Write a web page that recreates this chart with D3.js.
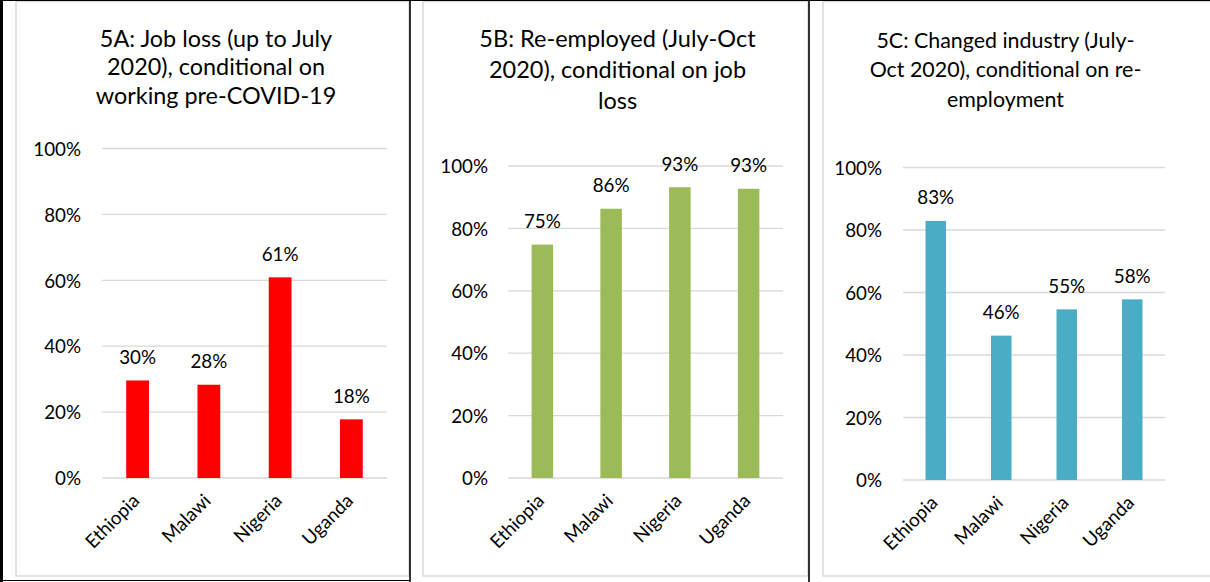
<!DOCTYPE html>
<html>
<head>
<meta charset="utf-8">
<script src="https://cdn.jsdelivr.net/npm/d3@7"></script>
<style>
  html, body { margin: 0; padding: 0; background: #fff; }
  svg { display: block; }
  text { font-family: Lato, "Open Sans", sans-serif; fill: #000; }
</style>
</head>
<body>
<svg id="chart" width="1210" height="582"></svg>
<script>
// ---------- data ----------
const categories = ["Ethiopia", "Malawi", "Nigeria", "Uganda"];
const jobLoss = [29.6, 28.3, 60.9, 17.8];
const reEmployed = [74.8, 86.3, 93.2, 92.7];
const changedIndustry = [82.9, 46.2, 54.6, 57.8];
const yTicks = [0, 20, 40, 60, 80, 100];
const titleA = ["5A: Job loss (up to July", "2020), conditional on", "working pre-COVID-19"];
const titleB = ["5B: Re-employed (July-Oct", "2020), conditional on job", "loss"];
const titleC = ["5C: Changed industry (July-", "Oct 2020), conditional on re-", "employment"];

// ---------- layout ----------
const svg = d3.select("#chart");
const FS = 18.8;
const panels = [
  { values: jobLoss, title: titleA, color: "#ff0000",
    box: [16, 1.5, 409, 576], x0: 102, x1: 387, yTop: 148.5, yBot: 478,
    tickEnd: 81, titleCx: 216, titleY: 46.5, titleLH: 28.5, titleSize: 23.4, barFrac: 0.32 },
  { values: reEmployed, title: titleB, color: "#9bbb59",
    box: [423, 1.5, 808, 576], x0: 508, x1: 783, yTop: 166, yBot: 478,
    tickEnd: 488, titleCx: 617.5, titleY: 46.7, titleLH: 31, titleSize: 23.5, barFrac: 0.313 },
  { values: changedIndustry, title: titleC, color: "#4bacc6",
    box: [823, 1.5, 1215, 576], x0: 903, x1: 1165, yTop: 167.5, yBot: 480,
    tickEnd: 882, titleCx: 1005.5, titleY: 48, titleLH: 29.3, titleSize: 21.4, barFrac: 0.313 }
];

// chart frames (gray)
panels.forEach(p => {
  svg.append("rect")
    .attr("x", p.box[0]).attr("y", p.box[1])
    .attr("width", p.box[2] - p.box[0]).attr("height", p.box[3] - p.box[1])
    .attr("fill", "#fff").attr("stroke", "#d9d9d9").attr("stroke-width", 1.5);
});

// black table lines
svg.append("line").attr("x1", 0).attr("x2", 1210).attr("y1", 0.5).attr("y2", 0.5)
  .attr("stroke", "#000").attr("stroke-width", 1);
svg.append("line").attr("x1", 1.5).attr("x2", 1.5).attr("y1", 0).attr("y2", 582)
  .attr("stroke", "#000").attr("stroke-width", 3);
[410, 809].forEach(x => {
  svg.append("line").attr("x1", x).attr("x2", x).attr("y1", 0).attr("y2", 582)
    .attr("stroke", "#000").attr("stroke-width", 1.6);
});
svg.append("line").attr("x1", 0).attr("x2", 410).attr("y1", 580.5).attr("y2", 580.5)
  .attr("stroke", "#000").attr("stroke-width", 1.2);

panels.forEach(p => {
  const g = svg.append("g");
  const x = d3.scaleBand().domain(categories).range([p.x0, p.x1]).padding(0);
  const y = d3.scaleLinear().domain([0, 100]).range([p.yBot, p.yTop]);

  // title
  const t = g.append("text").attr("text-anchor", "middle")
    .style("font-size", p.titleSize + "px");
  p.title.forEach((line, i) => {
    t.append("tspan").attr("x", p.titleCx).attr("y", p.titleY + i * p.titleLH).text(line);
  });

  // y tick labels
  const yAxis = d3.axisLeft(y).tickValues(yTicks).tickSize(0).tickPadding(0)
    .tickFormat(d => d + "%");
  const ya = g.append("g").attr("transform", `translate(${p.tickEnd},0)`).call(yAxis);
  ya.select(".domain").remove();
  ya.selectAll("text").attr("x", 0).attr("dy", "0.36em")
    .style("font-size", FS + "px").style("font-family", "Lato, sans-serif").attr("fill", "#000");

  // gridlines
  g.selectAll(".grid").data(yTicks).enter().append("line")
    .attr("x1", p.x0).attr("x2", p.x1)
    .attr("y1", d => y(d)).attr("y2", d => y(d))
    .attr("stroke", "#d9d9d9").attr("stroke-width", 1.3);

  // bars
  const bw = x.bandwidth() * p.barFrac;
  g.selectAll(".bar").data(p.values).enter().append("rect")
    .attr("x", (d, i) => x(categories[i]) + x.bandwidth() / 2 - bw / 2)
    .attr("y", d => y(d))
    .attr("width", bw)
    .attr("height", d => y(0) - y(d))
    .attr("fill", p.color);

  // value labels
  g.selectAll(".lbl").data(p.values).enter().append("text")
    .attr("x", (d, i) => x(categories[i]) + x.bandwidth() / 2)
    .attr("y", d => y(d) - 16.5)
    .attr("text-anchor", "middle")
    .style("font-size", FS + "px")
    .text(d => Math.round(d) + "%");

  // category labels
  const xAxis = d3.axisBottom(x).tickSize(0).tickPadding(0);
  const xa = g.append("g").attr("transform", `translate(0,${p.yBot})`).call(xAxis);
  xa.select(".domain").remove();
  xa.selectAll("text")
    .attr("text-anchor", "end").attr("dy", 0).attr("y", 0)
    .attr("transform", "translate(3,24) rotate(-45)")
    .style("font-size", FS + "px").style("font-family", "Lato, sans-serif").attr("fill", "#000");
});
</script>
</body>
</html>
